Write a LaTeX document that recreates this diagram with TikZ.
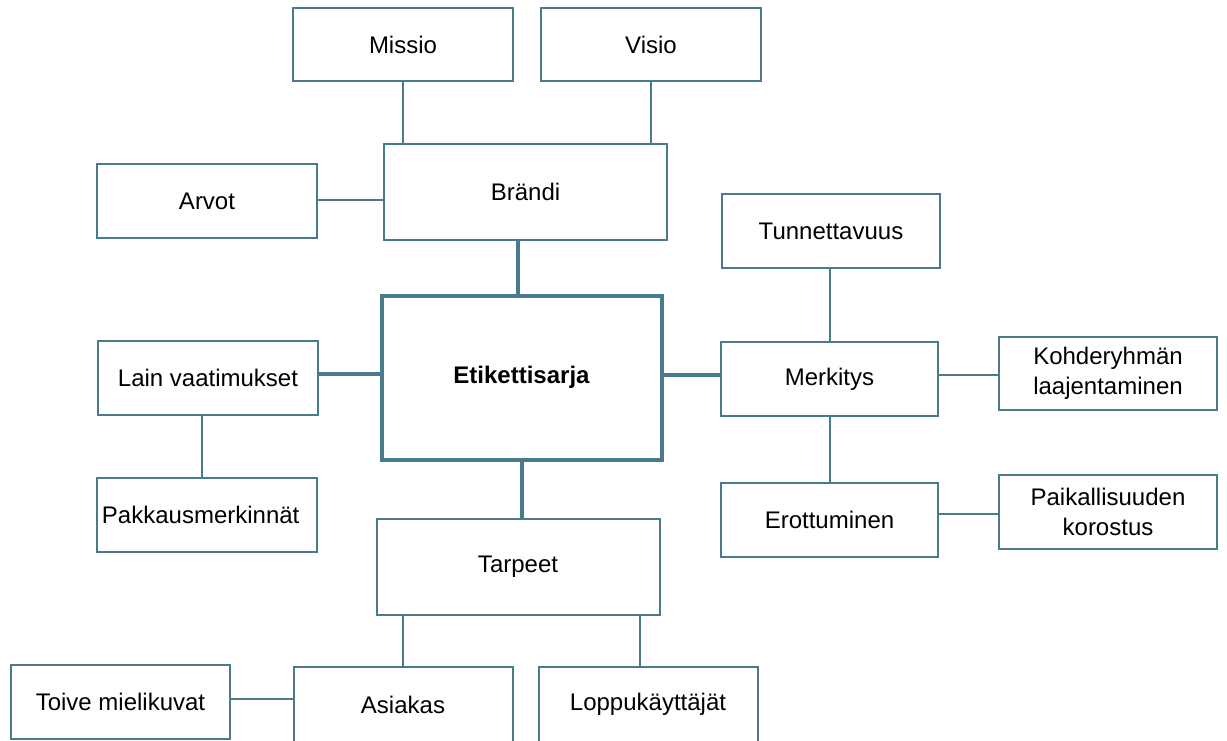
\documentclass[tikz,border=0pt]{standalone}
\usepackage{fontspec}
\setmainfont{Liberation Sans}
\definecolor{teal}{RGB}{74,123,140}
\begin{document}
\begin{tikzpicture}[x=1pt,y=-1pt,
  box/.style={draw=teal, line width=2pt, fill=white, inner sep=0pt, align=center,
    font=\fontsize{24}{30}\selectfont},
  mainbox/.style={box, line width=4pt, font=\fontsize{24}{30}\selectfont\bfseries},
  thin/.style={draw=teal, line width=2pt},
  thick/.style={draw=teal, line width=4pt}]
\useasboundingbox (0,0) rectangle (1227,740);
\fill[white] (0,0) rectangle (1227,740);

\node[box, minimum width=220pt, minimum height=73pt] (missio) at (403,44.5) {Missio};
\node[box, minimum width=220pt, minimum height=73pt] (visio) at (651,44.5) {Visio};
\node[box, minimum width=283pt, minimum height=96pt] (brandi) at (525.5,192) {Brändi};
\node[box, minimum width=220pt, minimum height=74pt] (arvot) at (207,201) {Arvot};
\node[box, minimum width=218pt, minimum height=74pt] (tunn) at (831,231) {Tunnettavuus};
\node[mainbox, minimum width=280pt, minimum height=164pt] (etik) at (521.5,377.5) {Etikettisarja};
\node[box, minimum width=220pt, minimum height=74pt] (lain) at (208,378) {Lain vaatimukset};
\node[box, minimum width=217pt, minimum height=74pt] (merk) at (829.5,379) {Merkitys};
\node[box, minimum width=218pt, minimum height=73pt] (kohde) at (1108,373.7) {Kohderyhmän\\laajentaminen};
\node[box, minimum width=220pt, minimum height=74pt] (pakk) at (206.7,514.5) {Pakkausmerkinnät\hspace{12pt}};
\node[box, minimum width=217pt, minimum height=74pt] (erott) at (829.5,519.5) {Erottuminen};
\node[box, minimum width=218pt, minimum height=74pt] (paik) at (1108,512) {Paikallisuuden\\korostus};
\node[box, minimum width=283pt, minimum height=96pt] (tarpeet) at (518,567) {Tarpeet};
\node[box, minimum width=219pt, minimum height=74pt] (toive) at (120.5,702) {Toive mielikuvat};
\node[box, minimum width=219pt, minimum height=75pt] (asiakas) at (403,704.5) {Asiakas};
\node[box, minimum width=219pt, minimum height=75pt] (lopp) at (648,704.5) {Loppukäyttäjät};

\draw[thin] (missio.south) -- (missio.south |- brandi.north);
\draw[thin] (visio.south) -- (visio.south |- brandi.north);
\draw[thin] ([yshift=1pt]arvot.east) -- ([yshift=1pt]arvot.east -| brandi.west);
\draw[thick] ([xshift=-3.2pt]etik.north) -- ([xshift=-3.2pt]etik.north |- brandi.south);
\draw[thick] ([yshift=4.5pt]lain.east) -- ([yshift=4.5pt]lain.east -| etik.west);
\draw[thick] ([yshift=4pt]merk.west) -- ([yshift=4pt]merk.west -| etik.east);
\draw[thin] ([xshift=-1.5pt]tunn.south) -- ([xshift=-1.5pt]tunn.south |- merk.north);
\draw[thin] ([yshift=4pt]merk.east) -- ([yshift=4pt]merk.east -| kohde.west);
\draw[thin] (merk.south) -- (merk.south |- erott.north);
\draw[thin] ([yshift=6pt]erott.east) -- ([yshift=6pt]erott.east -| paik.west);
\draw[thin] ([xshift=-6pt]lain.south) -- ([xshift=-6pt]lain.south |- pakk.north);
\draw[thick] (etik.south) -- (etik.south |- tarpeet.north);
\draw[thin] (asiakas.north) -- (asiakas.north |- tarpeet.south);
\draw[thin] ([xshift=-8pt]lopp.north) -- ([xshift=-8pt]lopp.north |- tarpeet.south);
\draw[thin] ([yshift=3.5pt]toive.east) -- ([yshift=3.5pt]toive.east -| asiakas.west);
\end{tikzpicture}
\end{document}
